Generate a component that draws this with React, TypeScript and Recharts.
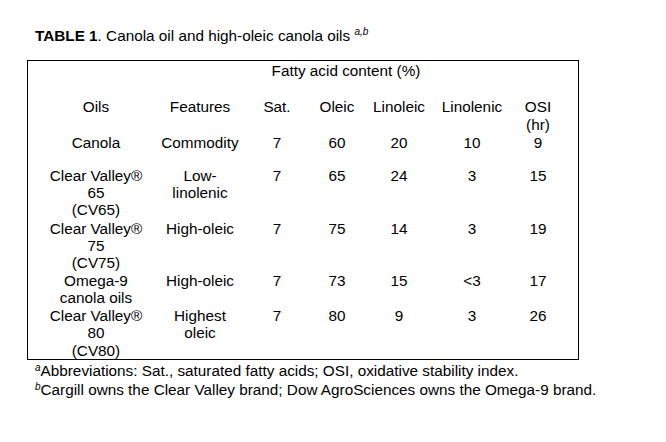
import { ComposedChart, Customized } from 'recharts';

// table content
const headers = ['Oils', 'Features', 'Sat.', 'Oleic', 'Linoleic', 'Linolenic', 'OSI'];
const oils = [
  ['Canola'],
  ['Clear Valley®', '65', '(CV65)'],
  ['Clear Valley®', '75', '(CV75)'],
  ['Omega-9', 'canola oils'],
  ['Clear Valley®', '80', '(CV80)'],
];
const features = [['Commodity'], ['Low-', 'linolenic'], ['High-oleic'], ['High-oleic'], ['Highest', 'oleic']];
const sat = ['7', '7', '7', '7', '7'];
const oleic = ['60', '65', '75', '73', '80'];
const linoleic = ['20', '24', '14', '15', '9'];
const linolenic = ['10', '3', '3', '<3', '3'];
const osi = ['9', '15', '19', '17', '26'];

const FONT = '"Liberation Sans", Arial, sans-serif';
const FS = 15.3;
const LH = 17.3;
// layout
const colX = [96, 200, 277, 337, 399, 472, 538];
const rowY = [148, 180.5, 233.5, 286, 321];

function Table() {
  const cols = [
    oils,
    features,
    sat.map((v) => [v]),
    oleic.map((v) => [v]),
    linoleic.map((v) => [v]),
    linolenic.map((v) => [v]),
    osi.map((v) => [v]),
  ];
  return (
    <g fontFamily={FONT} fontSize={FS} fill="#000">
      <text x={35} y={40.5}>
        <tspan fontWeight="bold">TABLE 1</tspan>
        <tspan>. Canola oil and high-oleic canola oils </tspan>
        <tspan fontSize={10} fontStyle="italic" dy={-6}>a,b</tspan>
      </text>
      <rect x={27.5} y={60.5} width={551} height={299} fill="none" stroke="#000" strokeWidth={1} />
      <text x={346} y={76} textAnchor="middle">Fatty acid content (%)</text>
      {headers.map((h, i) => (
        <text key={h} x={colX[i]} y={111.5} textAnchor="middle">{h}</text>
      ))}
      <text x={colX[6]} y={130} textAnchor="middle">(hr)</text>
      {cols.map((col, c) =>
        col.map((lines, r) =>
          lines.map((t, k) => (
            <text key={`${c}-${r}-${k}`} x={colX[c]} y={rowY[r] + k * LH} textAnchor="middle">{t}</text>
          ))
        )
      )}
      <text x={35} y={375.5}>
        <tspan fontSize={10} fontStyle="italic" dy={-5}>a</tspan>
        <tspan dy={5}>Abbreviations: Sat., saturated fatty acids; OSI, oxidative stability index.</tspan>
      </text>
      <text x={35} y={395}>
        <tspan fontSize={10} fontStyle="italic" dy={-5}>b</tspan>
        <tspan dy={5}>Cargill owns the Clear Valley brand; Dow AgroSciences owns the Omega-9 brand.</tspan>
      </text>
    </g>
  );
}

export default function App() {
  return (
    <div style={{ position: 'absolute', left: 0, top: 0, background: '#fff' }}>
      <ComposedChart width={666} height={442} data={[]} margin={{ top: 0, right: 0, bottom: 0, left: 0 }}>
        <Customized component={Table} />
      </ComposedChart>
    </div>
  );
}
